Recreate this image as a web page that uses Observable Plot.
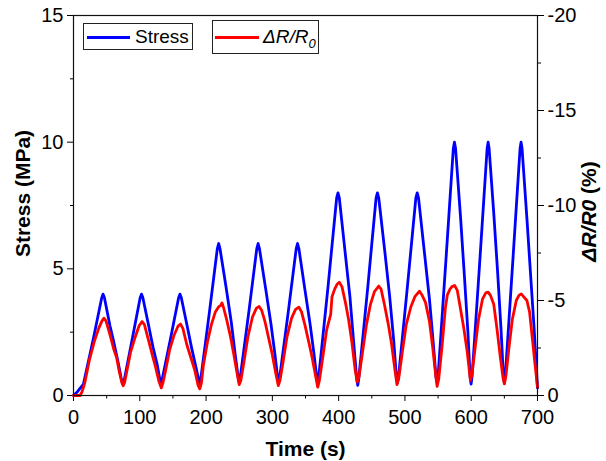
<!DOCTYPE html>
<html><head><meta charset="utf-8">
<script src="https://cdn.jsdelivr.net/npm/d3@7"></script>
<script src="https://cdn.jsdelivr.net/npm/@observablehq/plot@0.6"></script>
<style>
body{margin:0;background:#fff;}
#wrap{position:relative;width:606px;height:461px;font-family:"Liberation Sans",Arial,sans-serif;color:#000;}
#wrap svg g[aria-label="x-axis label"], #wrap svg g[aria-label="y-axis label"]{font-weight:bold;font-size:21px;}
.leg{position:absolute;border:1px solid #222;background:#fff;box-sizing:border-box;}
.leg .ln{position:absolute;height:3px;}
.leg .tx{position:absolute;font-size:19px;line-height:19px;white-space:nowrap;}
</style></head><body><div id="wrap"></div>
<script>
// Stress (MPa) series
const stressTime = [0,6,12,15,30,42.5,44.5,46.5,55,60,67,72.5,74.5,76.5,
  90,100.5,102.5,104.5,113,120,126,130.5,132,133.5,
  147,158.5,160.5,162.5,171,178,184,189,190.5,192,
  205,217,219,221,230,238,244,248.5,250,251.5,
  265,276.5,278.5,280.5,290,298,304,308,309.5,311,
  324,336,338,340,349,357,363,367,368.5,370,
  384,397,399,401,410,417,423,427.3,428.8,430.3,
  444,456.5,458.5,460.5,470,477,483,487.2,488.7,490.2,
  503,516.5,518.5,520.5,530,537,543,547,548.5,550,
  562,573,574.7,576.4,584,590,595,598.3,599.8,601.3,
  613,624,625.5,627,634,640,645,648.5,650,651.5,
  663,673.7,675.2,676.7,684,690,695,700];
const stressValue = [0,0.15,0.35,0.45,2.25,3.85,4.0,3.88,2.75,2.2,1.35,0.6,0.45,0.6,
  2.42,3.85,4.0,3.88,2.8,1.9,1.25,0.6,0.45,0.6,
  2.33,3.85,4.0,3.88,2.8,1.9,1.2,0.6,0.45,0.65,
  3.28,5.8,6.0,5.8,4.3,2.9,1.6,0.7,0.5,0.7,
  3.4,5.8,6.0,5.8,4.2,2.8,1.6,0.7,0.5,0.7,
  3.3,5.8,6.0,5.8,4.2,2.8,1.6,0.7,0.5,0.75,
  4.3,7.8,8.0,7.8,5.6,3.9,2.0,0.65,0.4,0.65,
  4.29,7.8,8.0,7.8,5.6,3.9,2.2,0.7,0.5,0.7,
  4.1,7.8,8.0,7.8,5.5,3.8,2.0,0.7,0.5,0.75,
  5.4,9.75,10.0,9.75,7.0,4.6,2.5,0.75,0.45,0.75,
  5.33,9.75,10.0,9.75,7.2,4.8,2.6,0.8,0.5,0.8,
  5.4,9.75,10.0,9.75,7.0,4.6,2.6,0.3];

// ΔR/R0 (%) series
const resTime = [0,10,13,17,24,31,38,43,46,49,55,61,65,69,73,75,77,
  80,86,93,99,103.5,107,113,119,124,129,132.5,135,
  139,145,152,158,161.5,165,171,177,183,188,190.5,193,
  196,202,208,214,219,222,224,226,231,237,242,246,250,252.5,
  257,263,270,276,280,284,289,295,300,305,309,311.5,
  316,322,329,335,340,344,349,355,360,365,368.5,371,
  376,382,388,390,394,398,401,405,410,415,420,425,428,430.5,
  436,442,448,454,460.5,464,469,475,480,485,488,490.5,
  496,502,509,515,522,526,531,537,542,546,548.5,551,
  556,561,564,568,571,575,579,584,589,594,598.8,601,
  606,611,617,622,625.5,629,634,639,644,648,650,652.5,
  657,662,668,672,675.5,679,684,688,692,696,700];
const resValue = [0,0,-0.2,-0.67,-1.87,-2.8,-3.53,-3.93,-4.07,-3.93,-3.2,-2.4,-2.0,-1.27,-0.67,-0.51,-0.67,
  -1.2,-2.27,-3.07,-3.67,-3.89,-3.73,-2.93,-2.13,-1.47,-0.73,-0.4,-0.67,
  -1.33,-2.4,-3.2,-3.67,-3.76,-3.53,-2.67,-2.0,-1.33,-0.53,-0.35,-0.67,
  -1.6,-2.8,-3.73,-4.4,-4.67,-4.73,-4.87,-4.67,-4.0,-3.07,-2.13,-1.33,-0.57,-0.8,
  -1.73,-3.07,-4.13,-4.6,-4.68,-4.47,-3.87,-2.93,-2.13,-1.2,-0.52,-0.8,
  -1.73,-3.07,-4.07,-4.53,-4.65,-4.4,-3.73,-2.8,-2.0,-1.07,-0.44,-0.8,
  -2.0,-3.47,-4.27,-5.2,-5.6,-5.87,-5.96,-5.73,-4.93,-4.0,-2.8,-1.33,-0.71,-0.93,
  -2.27,-3.73,-4.8,-5.47,-5.76,-5.6,-4.8,-3.73,-2.67,-1.33,-0.57,-0.87,
  -2.27,-3.73,-4.67,-5.2,-5.49,-5.27,-4.9,-3.9,-2.5,-1.2,-0.48,-0.87,
  -2.6,-4.6,-5.3,-5.6,-5.73,-5.79,-5.53,-4.53,-3.5,-2.3,-0.79,-1.07,
  -2.53,-4.0,-5.07,-5.4,-5.44,-5.27,-4.8,-3.47,-2.0,-0.93,-0.61,-1.07,
  -2.53,-4.0,-5.0,-5.27,-5.35,-5.2,-5.0,-4.4,-3.07,-1.73,-0.44];

// axis ticks
const xTicks = [0,100,200,300,400,500,600,700];
const xMinorTicks = [50,150,250,350,450,550,650];
const yTicks = [0,5,10,15];
const yMinorTicks = [2.5,7.5,12.5];
const rTicks = [0,-5,-10,-15,-20];
const rMinorTicks = [-2.5,-7.5,-12.5,-17.5];

// right axis (ΔR/R0, 0 … -20 %) shares the frame with stress (0 … 15 MPa)
const rScale = 15 / -20;
const toLeft = r => r * rScale;

const stressData = stressTime.map((t, i) => ({t, v: stressValue[i]}));
const resData = resTime.map((t, i) => ({t, v: toLeft(resValue[i])}));

const chart = Plot.plot({
  width: 606, height: 461,
  marginLeft: 73, marginRight: 69, marginTop: 15, marginBottom: 66,
  style: {fontSize: "20px", fontFamily: '"Liberation Sans", Arial, sans-serif', color: "#000", background: "#fff"},
  x: {domain: [0, 700]},
  y: {domain: [0, 15]},
  marks: [
    Plot.axisX({ticks: xTicks, tickSize: 6, tickPadding: 8, tickFormat: d => String(d),
      label: "Time (s)", labelAnchor: "center", labelArrow: "none", labelOffset: 60}),
    Plot.axisX({ticks: xMinorTicks, tickSize: 3.5, tickFormat: () => "", label: null}),
    Plot.axisY({ticks: yTicks, tickSize: 6, tickPadding: 4, tickFormat: d => String(d),
      label: "Stress (MPa)", labelAnchor: "center", labelArrow: "none", labelOffset: 58}),
    Plot.axisY({ticks: yMinorTicks, tickSize: 3, tickFormat: () => "", label: null}),
    Plot.axisY({anchor: "right", ticks: rTicks.map(toLeft), tickSize: 6, tickPadding: 4,
      tickFormat: d => String(Math.round(d / rScale)),
      label: "ΔR/R0 (%)", labelAnchor: "center", labelArrow: "none", labelOffset: 58}),
    Plot.axisY({anchor: "right", ticks: rMinorTicks.map(toLeft), tickSize: 3, tickFormat: () => "", label: null}),
    Plot.lineY(stressData, {x: "t", y: "v", stroke: "#0000ff", strokeWidth: 2.8}),
    Plot.lineY(resData, {x: "t", y: "v", stroke: "#ff0000", strokeWidth: 2.8}),
    Plot.frame({stroke: "#111", strokeWidth: 1.2})
  ]
});

const wrap = document.getElementById("wrap");
wrap.appendChild(chart);

// axis title tweaks
const yLabels = chart.querySelectorAll('g[aria-label="y-axis label"]');
if (yLabels[0]) {
  const tr = yLabels[0].getAttribute("transform") || "";
  yLabels[0].setAttribute("transform", tr + " translate(0,-12)");
}
if (yLabels[1]) {
  const tr = yLabels[1].getAttribute("transform") || "";
  yLabels[1].setAttribute("transform", tr + " translate(0,6)");
  const txt = yLabels[1].querySelector("text");
  if (txt) {
    txt.textContent = "";
    const ns = "http://www.w3.org/2000/svg";
    const a = document.createElementNS(ns, "tspan");
    a.setAttribute("font-style", "italic");
    a.textContent = "ΔR/R0";
    const b = document.createElementNS(ns, "tspan");
    b.textContent = " (%)";
    txt.appendChild(a); txt.appendChild(b);
  }
}

// legend
function legendBox(left, top, w, h, color, lineLeft, lineTop, lineW, textLeft, textTop, html) {
  const box = document.createElement("div");
  box.className = "leg";
  Object.assign(box.style, {left: left + "px", top: top + "px", width: w + "px", height: h + "px"});
  const ln = document.createElement("div");
  ln.className = "ln";
  Object.assign(ln.style, {left: lineLeft + "px", top: lineTop + "px", width: lineW + "px", background: color});
  const tx = document.createElement("div");
  tx.className = "tx";
  Object.assign(tx.style, {left: textLeft + "px", top: textTop + "px"});
  tx.innerHTML = html;
  box.appendChild(ln); box.appendChild(tx);
  wrap.appendChild(box);
}
legendBox(83, 23, 110, 27, "#0000ff", 3, 11.5, 43, 51, 3, "Stress");
legendBox(212, 20, 107, 34, "#ff0000", 2, 15, 44, 50, 6, '<i>ΔR/R</i><i style="font-size:13px;position:relative;top:5px;">0</i>');
</script></body></html>
